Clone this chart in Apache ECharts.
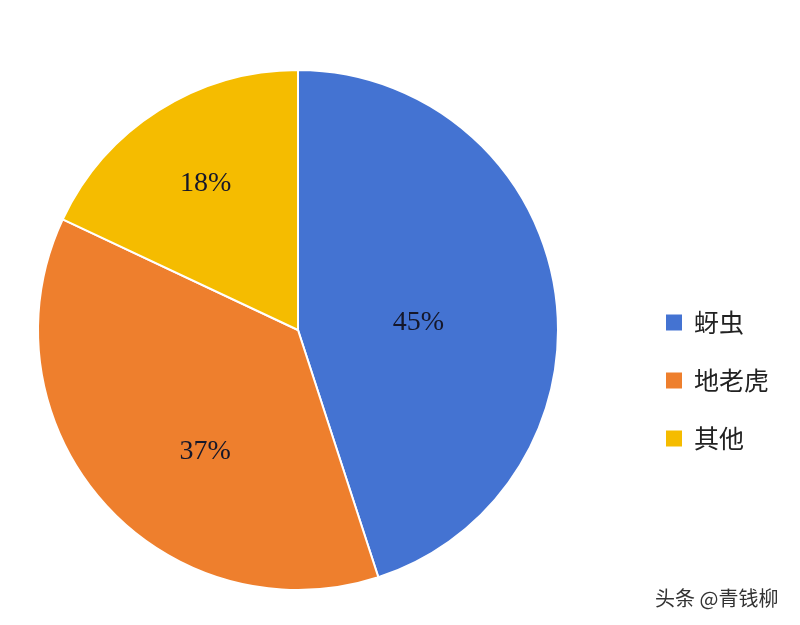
<!DOCTYPE html>
<html>
<head>
<meta charset="utf-8">
<script src="https://cdn.jsdelivr.net/npm/echarts@6/dist/echarts.min.js"></script>
<style>html,body{margin:0;padding:0;background:#fff}#c{width:800px;height:625px}</style>
</head>
<body>
<div id="c"></div>
<script>
const categories = ['蚜虫', '地老虎', '其他'];
const values = [45, 37, 18];
const colors = ['#4473D2', '#EE7F2D', '#F5BC00'];
const labelOffsets = [[-11, 13], [7, 34], [-21, -34]];

const chart = echarts.init(document.getElementById('c'));
chart.setOption({
  backgroundColor: '#ffffff',
  animation: false,
  legend: {
    orient: 'vertical',
    left: 659,
    top: 305,
    icon: 'rect',
    itemWidth: 18,
    itemHeight: 18,
    itemGap: 33,
    textStyle: { fontFamily: 'Noto Sans CJK SC', fontSize: 25, color: '#222', padding: [0, 0, 0, 6] },
    data: categories
  },
  graphic: [{
    type: 'text',
    left: 655,
    top: 588,
    style: { text: '头条 @青钱柳', font: '20px "Noto Sans CJK SC"', fill: '#333' }
  }],
  series: [{
    type: 'pie',
    center: [298, 330],
    radius: 260,
    startAngle: 90,
    clockwise: true,
    itemStyle: { borderColor: '#fff', borderWidth: 2 },
    label: {
      position: 'inside',
      formatter: '{d}%',
      fontFamily: 'Liberation Serif',
      fontSize: 28,
      color: '#15172a'
    },
    labelLine: { show: false },
    data: categories.map((n, i) => ({
      name: n, value: values[i],
      itemStyle: { color: colors[i] },
      label: { offset: labelOffsets[i] }
    }))
  }]
});
</script>
</body>
</html>
